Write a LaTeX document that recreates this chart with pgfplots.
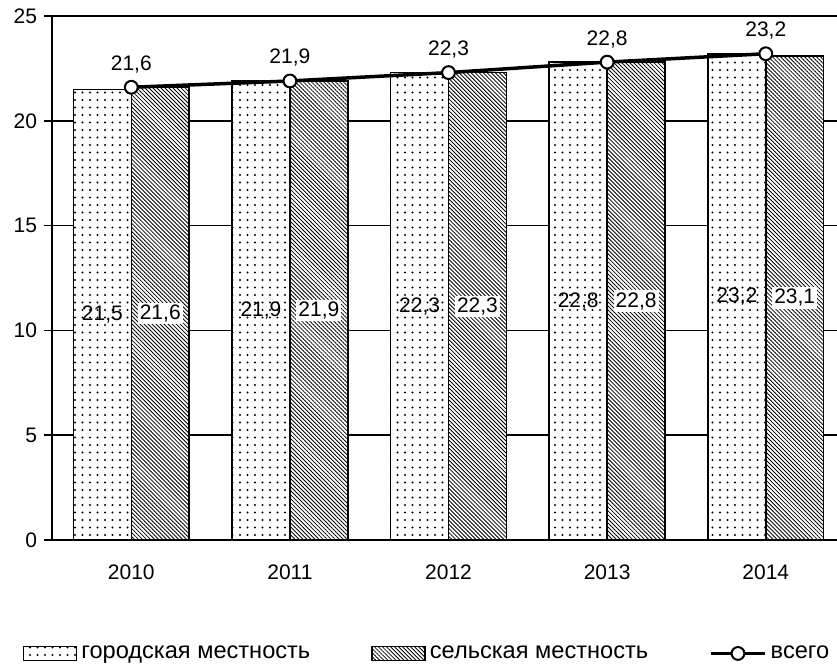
\documentclass[border=0pt]{standalone}
\usepackage{fontspec}
\setmainfont{Liberation Sans}
\usepackage{pgfplots}
\pgfplotsset{compat=1.18}
\usetikzlibrary{patterns,patterns.meta}

\pgfdeclarepatternformonly{mydots}{\pgfqpoint{-0.6pt}{-0.6pt}}{\pgfqpoint{3.2pt}{3.2pt}}{\pgfqpoint{3.75pt}{3.75pt}}{%
  \pgfpathcircle{\pgfqpoint{0pt}{0pt}}{0.55pt}%
  \pgfusepath{fill}}

\pgfplotsset{
  barlegend/.style={legend image code/.code={\draw[##1] (0pt,-3.5pt) rectangle (26.5pt,3.5pt);}},
  linelegend/.style={legend image code/.code={\draw[##1, mark repeat=2, mark phase=2] plot coordinates {(0pt,0pt) (13.5pt,0pt) (27pt,0pt)};}},
  valnum/.style={/pgf/number format/use comma, /pgf/number format/fixed, /pgf/number format/fixed zerofill, /pgf/number format/precision=1},
}

\begin{document}
\begin{tikzpicture}
\begin{axis}[
  scale only axis, width=392.5pt, height=262pt,
  xmin=-0.5, xmax=4.449, ymin=0, ymax=25,
  axis x line*=bottom, axis y line*=left,
  axis line style={black, line width=0.8pt},
  xtick={0,1,2,3,4}, xticklabels={2010,2011,2012,2013,2014},
  xtick style={draw=none},
  ytick={0,5,10,15,20,25},
  ymajorgrids, grid style={black, line width=0.8pt},
  tick align=outside, major tick length=4pt,
  ytick style={black, line width=0.8pt},
  tick label style={font=\fontsize{10.5}{12}\selectfont},
  xticklabel style={yshift=-5pt},
  /pgf/number format/assume math mode=true,
  legend columns=3,
  legend style={at={(axis description cs:0.479,-0.2165)}, anchor=center, draw=none, fill=none,
    font=\fontsize{11.8}{14}\selectfont,
    /tikz/every even column/.append style={column sep=28.5pt},
    /tikz/every odd column/.append style={column sep=0pt},
    nodes={inner xsep=2pt},
    cells={anchor=west}, inner sep=0pt},
]
\addplot[ybar, bar width=0.365, bar shift=-0.1825, draw=black, line width=0.8pt, fill=white,
  postaction={pattern=mydots}, barlegend]
  coordinates {(0,21.5) (1,21.9) (2,22.3) (3,22.8) (4,23.2)};
\addlegendentry{городская местность}
\addplot[ybar, bar width=0.365, bar shift=0.1825, draw=black, line width=0.8pt, fill=white,
  postaction={pattern={Lines[angle=-45,distance=1.42pt,line width=0.42pt]}}, barlegend]
  coordinates {(0,21.6) (1,21.9) (2,22.3) (3,22.8) (4,23.1)};
\addlegendentry{сельская местность}
\addplot[black, line width=1.75pt, mark=*, mark size=3.2pt,
  mark options={fill=white, draw=black, line width=1pt}, linelegend]
  coordinates {(0,21.6) (1,21.9) (2,22.3) (3,22.8) (4,23.2)};
\addlegendentry{всего}
% labels: total
\addplot[draw=none, forget plot, nodes near coords, point meta=explicit, valnum,
  every node near coord/.style={anchor=center, yshift=11.5pt, font=\fontsize{10.5}{12}\selectfont}]
  coordinates {(0,21.6) [21.6] (1,21.9) [21.9] (2,22.3) [22.3] (3,22.8) [22.8] (4,23.2) [23.2]};
% labels: urban
\addplot[draw=none, forget plot, nodes near coords, point meta=explicit, valnum,
  every node near coord/.style={anchor=center, font=\fontsize{10.5}{12}\selectfont, inner sep=1pt}]
  coordinates {(-0.1825,10.75) [21.5] (0.8175,10.95) [21.9] (1.8175,11.15) [22.3] (2.8175,11.4) [22.8] (3.8175,11.6) [23.2]};
% labels: rural
\addplot[draw=none, forget plot, nodes near coords, point meta=explicit, valnum,
  every node near coord/.style={anchor=center, font=\fontsize{10.5}{12}\selectfont, fill=white, inner sep=1pt}]
  coordinates {(0.1825,10.8) [21.6] (1.1825,10.95) [21.9] (2.1825,11.15) [22.3] (3.1825,11.4) [22.8] (4.1825,11.55) [23.1]};
\end{axis}
\pgfresetboundingbox
\path ([shift={(-26pt,-65pt)}]current axis.south west) rectangle ([shift={(0pt,8pt)}]current axis.north east);
\end{tikzpicture}
\end{document}
